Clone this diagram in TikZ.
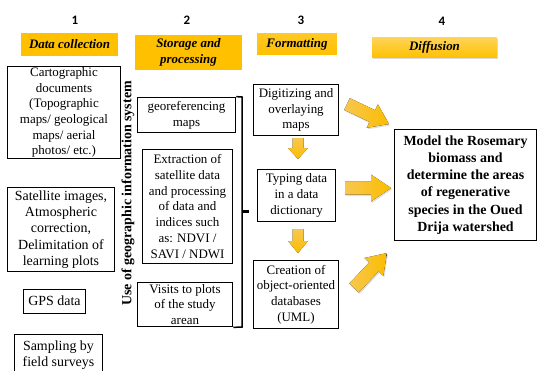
\documentclass[tikz,border=0pt]{standalone}
\usepackage{fontspec}
\setmainfont{Liberation Serif}
\newfontfamily\numfont{Carlito}
\usetikzlibrary{shadows}
\definecolor{gold}{HTML}{FFC000}
\definecolor{goldlight}{HTML}{FFD45A}
\definecolor{arrlight}{HTML}{F8C750}
\definecolor{arrdark}{HTML}{FABD00}
\begin{document}
\begin{tikzpicture}[x=1bp,y=-1bp,
  box/.style={draw=black, line width=0.9bp, align=center, inner sep=0pt,
    font=\fontsize{13}{15.8}\selectfont},
  hdr/.style={fill=gold, align=center, inner sep=0pt,
    font=\fontsize{13}{16}\selectfont\bfseries\itshape},
  num/.style={font=\numfont\bfseries\fontsize{13}{15}\selectfont, inner sep=0pt},
  arrsh/.style={left color=arrlight, right color=arrdark,
    drop shadow={opacity=0.25, shadow xshift=1bp, shadow yshift=-1.5bp}},
  darrsh/.style={top color=arrlight, bottom color=arrdark}
]
\useasboundingbox (0,0) rectangle (538,370);

% column numbers
\node[num] (n1) at (75,20) {1};
\node[num] (n2) at (187,20) {2};
\node[num] (n3) at (301,20) {3};
\node[num] (n4) at (442,21) {4};

% headers
\node[hdr, minimum width=97, minimum height=23] (h1) at (69.5,44.5) {Data collection};
\node[hdr, minimum width=107, minimum height=35] (h2) at (188.5,52.5) {Storage and\\processing};
\node[hdr, minimum width=80, minimum height=22, top color=gold!85!white, bottom color=gold] (h3) at (297,44) {Formatting};
\node[hdr, minimum width=125, minimum height=21, top color=goldlight, bottom color=gold,
  drop shadow={opacity=0.3, shadow xshift=1bp, shadow yshift=-1.5bp}] (h4) at (434.5,47.5) {Diffusion};

% column 1
\node[box, minimum width=114, minimum height=93] (carto) at (64,112.5)
  {Cartographic\\documents\\(Topographic\\maps/ geological\\maps/ aerial\\photos/ etc.)};
\node[box, minimum width=108, minimum height=85, font=\fontsize{14}{16.3}\selectfont] (sat) at (61,229.5)
  {Satellite images,\\Atmospheric\\correction,\\Delimitation of\\learning plots};
\node[box, minimum width=63, minimum height=24, font=\fontsize{14}{16}\selectfont] (gps) at (54.5,301) {GPS data};
\node[box, minimum width=89, minimum height=42, font=\fontsize{14}{15.5}\selectfont] (samp) at (58.5,355)
  {Sampling by\\field surveys};

% vertical label
\node[rotate=90, inner sep=0pt, font=\fontsize{14}{16}\selectfont\bfseries] (gis) at (128,193.5)
  {Use of geographic information system};

% column 2
\node[box, minimum width=99, minimum height=36] (geo) at (186.5,115) {georeferencing\\maps};
\node[box, minimum width=91, minimum height=115] (ext) at (187.5,206.5)
  {Extraction of\\satellite data\\and processing\\of data and\\indices such\\as: NDVI /\\SAVI / NDWI};
\node[box, minimum width=96, minimum height=45] (vis) at (185,304.5) {Visits to plots\\of the study\\arean};

% brace
\coordinate (bt) at (242,97);
\coordinate (bb) at (242,327);
\coordinate (bm) at (242,211);
\coordinate (bmt) at (249,211);
\draw[line width=1.5bp] (geo.north east) -- (bt) -- (bb) -- (vis.south east);
\draw[line width=3bp] (bm) -- (bmt);

% column 3
\node[box, minimum width=86, minimum height=52] (dig) at (296,110) {Digitizing and\\overlaying\\maps};
\node[box, minimum width=78, minimum height=53] (typ) at (296.5,195.5) {Typing data\\in a data\\dictionary};
\node[box, minimum width=86, minimum height=69] (cre) at (296,294.5) {Creation of\\object-oriented\\databases\\(UML)};

% result
\node[box, minimum width=143, minimum height=112, font=\fontsize{14}{17.3}\selectfont\bfseries] (res) at (465.5,185)
  {Model the Rosemary\\biomass and\\determine the areas\\of regenerative\\species in the Oued\\Drija watershed};

% down arrows
\coordinate (d1t) at (298,138);
\coordinate (d1h) at (298,159);
\coordinate (d2t) at (298,229);
\coordinate (d2h) at (298,253);
\begin{scope}[shift={(d1t)}]
  \fill[darrsh] (-5.5,0) -- (5.5,0) -- (5.5,10) -- (10,10) -- (0,21) -- (-10,10) -- (-5.5,10) -- cycle;
\end{scope}
\begin{scope}[shift={(d2t)}]
  \fill[darrsh] (-5.5,0) -- (5.5,0) -- (5.5,12) -- (10,12) -- (0,24) -- (-10,12) -- (-5.5,12) -- cycle;
\end{scope}

% big arrows to result
\coordinate (a1t) at (347,104);
\coordinate (a2t) at (345,188);
\coordinate (a3t) at (354,288);
\begin{scope}[shift={(a1t)}, rotate=-25.5]
  \fill[arrsh] (0,-6.5) -- (28,-6.5) -- (28,-13) -- (46.5,0) -- (28,13) -- (28,6.5) -- (0,6.5) -- cycle;
\end{scope}
\begin{scope}[shift={(a2t)}]
  \fill[arrsh] (0,-6.5) -- (26,-6.5) -- (26,-13.5) -- (46,0) -- (26,13.5) -- (26,6.5) -- (0,6.5) -- cycle;
\end{scope}
\begin{scope}[shift={(a3t)}, rotate=46.7]
  \fill[arrsh] (0,-6.5) -- (29,-6.5) -- (29,-13) -- (48,0) -- (29,13) -- (29,6.5) -- (0,6.5) -- cycle;
\end{scope}
\end{tikzpicture}
\end{document}
